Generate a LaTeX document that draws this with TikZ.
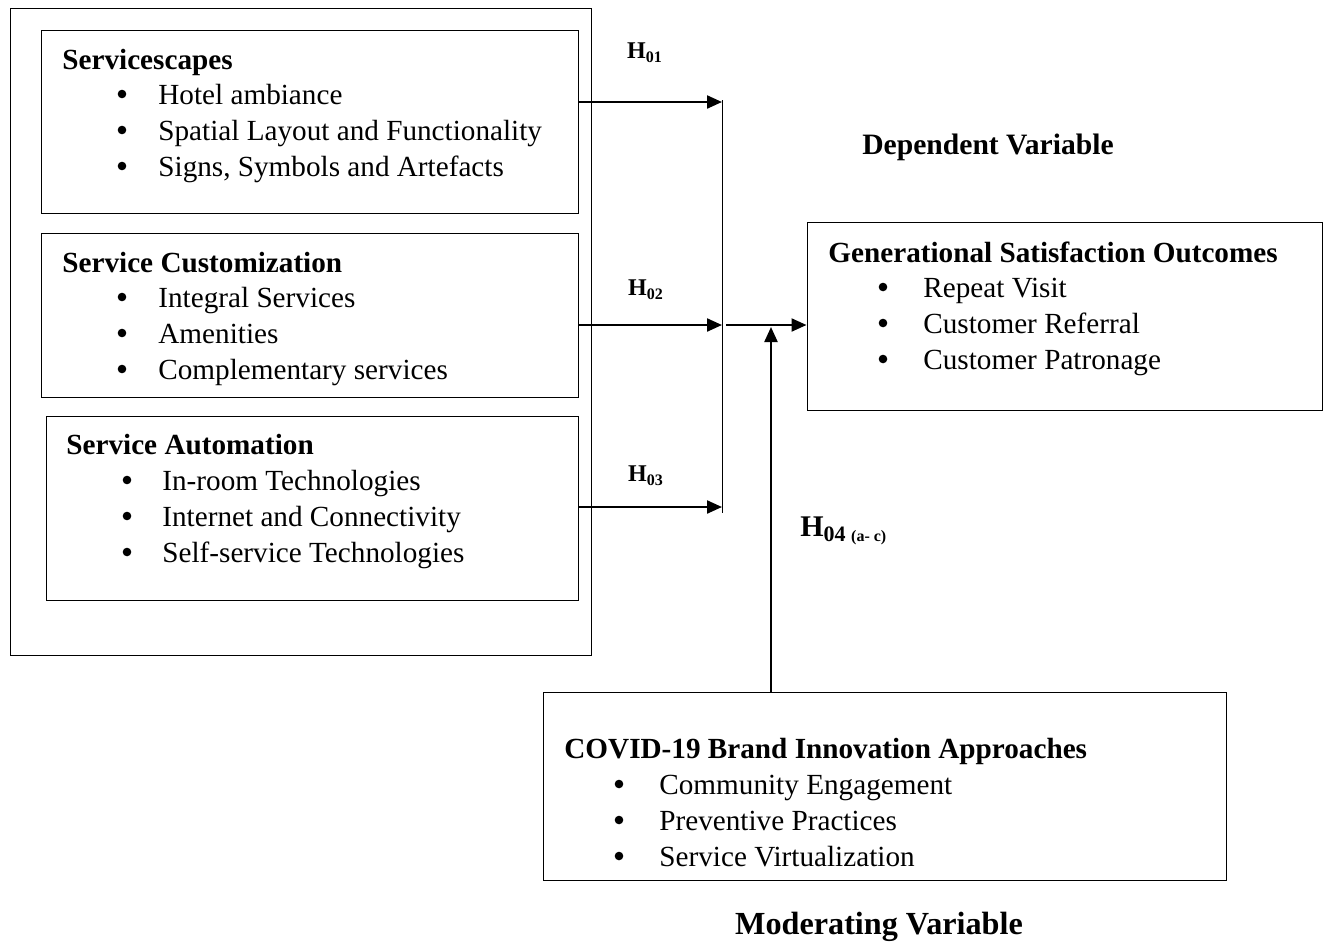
\documentclass[tikz,border=0pt]{standalone}
\usepackage{fontspec}
\setmainfont{Liberation Serif}
\usetikzlibrary{fit,arrows.meta}
\begin{document}
\begin{tikzpicture}[x=0.5pt,y=-0.5pt,
  box/.style={draw,line width=0.5pt,inner sep=0pt},
  head/.style={anchor=base west,font=\fontsize{14.6}{17}\selectfont\bfseries,inner sep=0pt},
  item/.style={anchor=base west,font=\fontsize{14.6}{17}\selectfont,inner sep=0pt},
  bul/.style={circle,fill,inner sep=0pt,minimum size=4.3pt},
  arr/.style={line width=1.1pt,-{Triangle[length=7.5pt,width=6.5pt]}},
  hlab/.style={font=\fontsize{12}{14}\selectfont\bfseries,inner sep=0pt},
  var/.style={font=\fontsize{14.8}{17}\selectfont\bfseries,inner sep=0pt}]
\useasboundingbox (0,0) rectangle (1324,944);
% outer and left boxes
\node[box,fit={(10,8)(591,655)}] (outer) {};
\node[box,fit={(41,30)(578,213)}] (b1) {};
\node[box,fit={(41,233)(578,397)}] (b2) {};
\node[box,fit={(46,416)(578,600)}] (b3) {};
\node[box,fit={(807,222)(1322,410)}] (dv) {};
\node[box,fit={(543,692)(1226,880)}] (mv) {};
% box 1
\node[head] (h1) at (62,69) {Servicescapes};
\foreach \y/\t [count=\i] in {94/Hotel ambiance,130/Spatial Layout and Functionality,166/{Signs, Symbols and Artefacts}}{
  \node[bul] (b1d\i) at (122,\y) {};
  \node[item] (b1t\i) at (158,\y+10) {\t};}
% box 2
\node[head] (h2) at (62,272) {Service Customization};
\foreach \y/\t [count=\i] in {297/Integral Services,333/Amenities,369/Complementary services}{
  \node[bul] (b2d\i) at (122,\y) {};
  \node[item] (b2t\i) at (158,\y+10) {\t};}
% box 3
\node[head] (h3) at (66,454) {Service Automation};
\foreach \y/\t [count=\i] in {480/In-room Technologies,516/Internet and Connectivity,552/Self-service Technologies}{
  \node[bul] (b3d\i) at (127,\y) {};
  \node[item] (b3t\i) at (162,\y+10) {\t};}
% dependent box
\node[head] (h4) at (828,262) {Generational Satisfaction Outcomes};
\foreach \y/\t [count=\i] in {287/Repeat Visit,323/Customer Referral,359/Customer Patronage}{
  \node[bul] (b4d\i) at (883,\y) {};
  \node[item] (b4t\i) at (923,\y+10) {\t};}
% moderating box
\node[head] (h5) at (564,758) {COVID-19 Brand Innovation Approaches};
\foreach \y/\t [count=\i] in {784/Community Engagement,820/Preventive Practices,856/Service Virtualization}{
  \node[bul] (b5d\i) at (619,\y) {};
  \node[item] (b5t\i) at (659,\y+10) {\t};}
% connectors
\coordinate (j1) at (722,102);
\coordinate (j2) at (722,325);
\coordinate (j3) at (722,507);
\coordinate (vt) at (722,100);
\coordinate (vb) at (722,513);
\coordinate (m0) at (726,325);
\coordinate (mt) at (771,327);
\draw[line width=0.5pt] (vt) -- (vb);
\draw[arr] (b1.east |- j1) -- (j1);
\draw[arr] (b2.east |- j2) -- (j2);
\draw[arr] (b3.east |- j3) -- (j3);
\draw[arr] (m0) -- (dv.west |- m0);
\draw[arr] (mv.north -| mt) -- (mt);
% labels
\node[hlab] (l1) at (645,53) {H\textsubscript{01}};
\node[hlab] (l2) at (646,290) {H\textsubscript{02}};
\node[hlab] (l3) at (646,476) {H\textsubscript{03}};
\node[font=\fontsize{15}{17}\selectfont\bfseries,inner sep=0pt,anchor=west] (l4) at (800,531) {H\textsubscript{\fontsize{11}{13}\selectfont 04 \fontsize{8}{10}\selectfont (a- c)}};
\node[var] (dvl) at (988,147) {Dependent Variable};
\node[var,font=\fontsize{16.1}{19}\selectfont\bfseries] (mvl) at (879,927) {Moderating Variable};
\end{tikzpicture}
\end{document}
